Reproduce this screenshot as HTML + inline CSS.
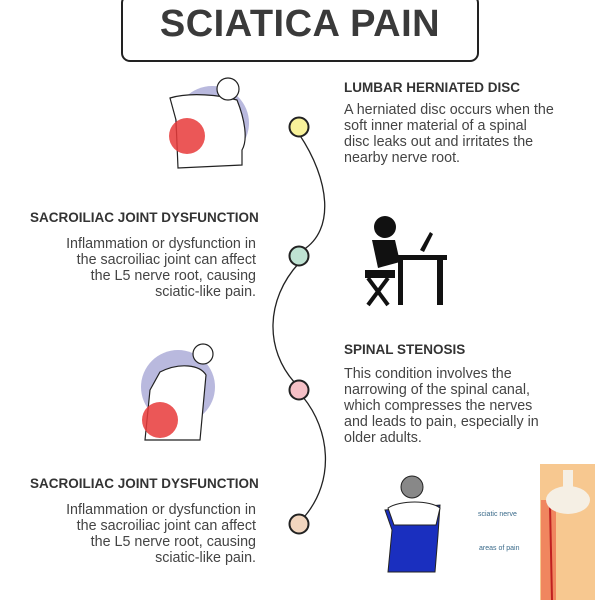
<!DOCTYPE html><html><head><style>
body{margin:0;width:600px;height:600px;background:#fff;position:relative;overflow:hidden;font-family:"Liberation Sans",sans-serif;color:#333}
.box{position:absolute;left:121px;top:-6px;width:354px;height:64px;border:2px solid #222;border-radius:9px}
.title{position:absolute;left:0;width:600px;top:3px;text-align:center;font-size:38px;font-weight:bold;color:#3a3a3a;letter-spacing:0.5px}
.h{position:absolute;font-weight:bold;font-size:13.5px;color:#333;white-space:nowrap}
.p{position:absolute;font-size:14.3px;line-height:16px;color:#444;white-space:nowrap}
.r{text-align:right}
</style></head><body>
<div class="box"></div><div class="title">SCIATICA PAIN</div>
<div class="h" style="left:344px;top:80px">LUMBAR HERNIATED DISC</div>
<div class="p" style="left:344px;top:102px">A herniated disc occurs when the<br>soft inner material of a spinal<br>disc leaks out and irritates the<br>nearby nerve root.</div>
<div class="h" style="left:30px;top:210px">SACROILIAC JOINT DYSFUNCTION</div>
<div class="p r" style="right:344px;top:236px">Inflammation or dysfunction in<br>the sacroiliac joint can affect<br>the L5 nerve root, causing<br>sciatic-like pain.</div>
<div class="h" style="left:344px;top:342px">SPINAL STENOSIS</div>
<div class="p" style="left:344px;top:366px">This condition involves the<br>narrowing of the spinal canal,<br>which compresses the nerves<br>and leads to pain, especially in<br>older adults.</div>
<div class="h" style="left:30px;top:476px">SACROILIAC JOINT DYSFUNCTION</div>
<div class="p r" style="right:344px;top:502px">Inflammation or dysfunction in<br>the sacroiliac joint can affect<br>the L5 nerve root, causing<br>sciatic-like pain.</div>
<svg width="600" height="600" style="position:absolute;left:0;top:0">
<path d="M299,134 C330,180 335,230 303,250 M299,263 C265,300 265,350 295,383 M303,397 C330,430 335,480 305,516" fill="none" stroke="#222" stroke-width="1.3"/>
<circle cx="299" cy="127" r="9.5" fill="#f8f29a" stroke="#222" stroke-width="2"/>
<circle cx="299" cy="256" r="9.5" fill="#bfe3d3" stroke="#222" stroke-width="2"/>
<circle cx="299" cy="390" r="9.5" fill="#f5c0c6" stroke="#222" stroke-width="2"/>
<circle cx="299" cy="524" r="9.5" fill="#f2d6bf" stroke="#222" stroke-width="2"/>
<circle cx="212" cy="123" r="37" fill="#b9b9de"/>
<path d="M170,98 C190,92 220,95 237,100 C245,120 248,140 242,150 L242,165 L178,168 L176,120 Z" fill="#fff" stroke="#222" stroke-width="1.2"/>
<circle cx="228" cy="89" r="11" fill="#fff" stroke="#222" stroke-width="1.2"/>
<circle cx="187" cy="136" r="18" fill="#e83a3a" opacity=".85"/>
<rect x="395" y="255" width="52" height="5" fill="#111"/>
<rect x="437" y="260" width="6" height="45" fill="#111"/>
<rect x="398" y="260" width="5" height="45" fill="#111"/>
<circle cx="385" cy="227" r="11" fill="#111"/>
<path d="M372,240 L395,240 L400,262 L378,268 Z" fill="#111"/>
<rect x="365" y="270" width="30" height="8" fill="#111"/>
<path d="M368,278 L388,305 M388,278 L368,305" stroke="#111" stroke-width="4"/>
<path d="M420,250 L430,232 L433,234 L424,252Z" fill="#111"/>
<circle cx="178" cy="387" r="37" fill="#b9b9de"/>
<path d="M160,372 C180,362 200,365 206,375 L200,440 L145,440 L150,390 Z" fill="#fff" stroke="#222" stroke-width="1.2"/>
<circle cx="203" cy="354" r="10" fill="#fff" stroke="#222" stroke-width="1.2"/>
<circle cx="160" cy="420" r="18" fill="#e83a3a" opacity=".85"/>
<circle cx="412" cy="487" r="11" fill="#888" stroke="#222"/>
<path d="M385,510 L440,505 L438,535 L435,572 L388,572 L392,530 Z" fill="#1a2fbf" stroke="#222"/>
<path d="M388,508 C400,500 430,500 440,508 L436,525 L394,525 Z" fill="#fff" stroke="#222"/>
<rect x="540" y="464" width="55" height="136" fill="#f7c890"/>
<rect x="541" y="500" width="15" height="100" fill="#ec6a4a" opacity=".7"/>
<path d="M550,505 L552,600" stroke="#c02020" stroke-width="2"/>
<ellipse cx="568" cy="500" rx="22" ry="14" fill="#f5efe4"/>
<rect x="563" y="470" width="10" height="30" fill="#f5efe4"/>
<text x="478" y="516" font-size="7" fill="#3a6a8a" font-family="Liberation Sans">sciatic nerve</text>
<text x="479" y="550" font-size="7" fill="#3a6a8a" font-family="Liberation Sans">areas of pain</text>
</svg>
</body></html>
